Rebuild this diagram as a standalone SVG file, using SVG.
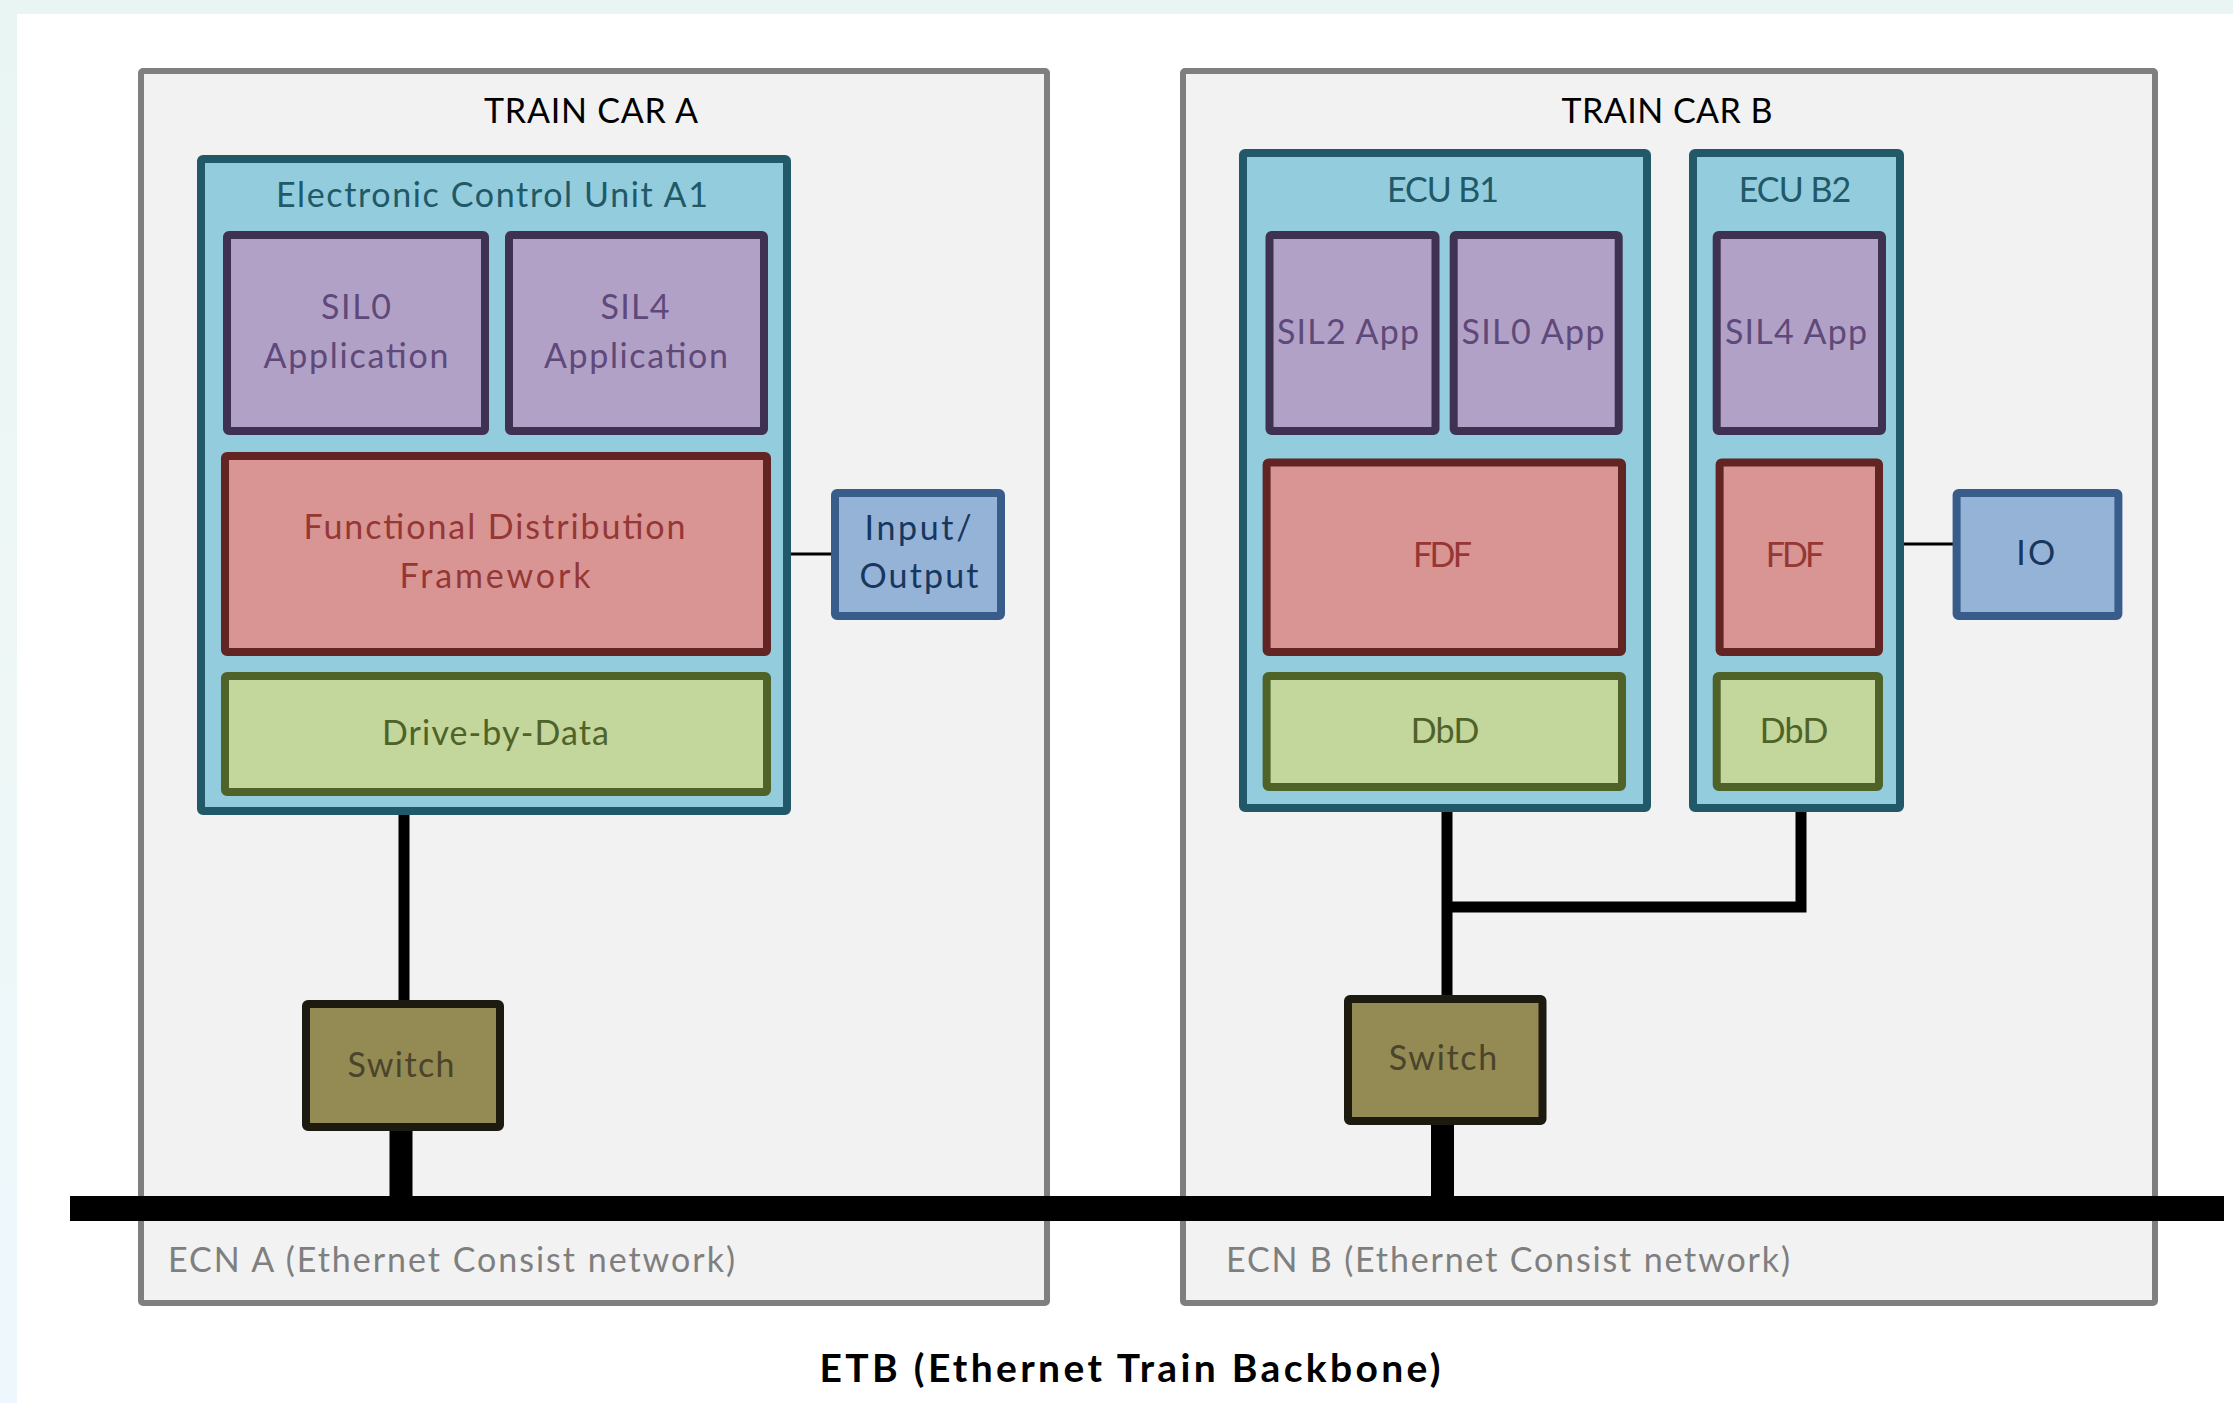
<svg xmlns="http://www.w3.org/2000/svg" width="2233" height="1403" viewBox="0 0 2233 1403">
<defs>
<linearGradient id="bgl" x1="0" y1="0" x2="0" y2="1">
<stop offset="0" stop-color="#e9f5f3"/>
<stop offset="0.5" stop-color="#eef7f6"/>
<stop offset="1" stop-color="#eef7fd"/>
</linearGradient>
<style>
text{font-family:Lato,"Open Sans","Liberation Sans",sans-serif;font-size:34px;text-anchor:middle}
.car{fill:#f2f2f2;stroke:#7f7f7f;stroke-width:6}
.ecu{fill:#93cddd;stroke:#215968;stroke-width:8}
.app{fill:#b2a1c7;stroke:#3f3151;stroke-width:8}
.fdf{fill:#d99594;stroke:#632523;stroke-width:8}
.dbd{fill:#c3d69b;stroke:#4f6228;stroke-width:8}
.io{fill:#95b3d7;stroke:#385d8a;stroke-width:8}
.sw{fill:#948a54;stroke:#1d1b10;stroke-width:8}
.tcar{fill:#000}
.tecu{fill:#215968}
.tapp{fill:#5f497a}
.tfdf{fill:#953735}
.tdbd{fill:#4f6228}
.tio{fill:#17375e}
.tsw{fill:#4a452a}
.tecn{fill:#7f7f7f;text-anchor:start}
.tetb{fill:#000;font-weight:bold;font-size:39px}
.thin{stroke:#000;stroke-width:3;fill:none}
.med{stroke:#000;stroke-width:11;fill:none}
.thick{stroke:#000;stroke-width:23;fill:none}
</style>
</defs>
<rect x="0" y="0" width="2233" height="1403" fill="url(#bgl)"/>
<rect x="17" y="14" width="2216" height="1389" fill="#ffffff"/>

<g id="car-a">
<rect class="car" x="141" y="71" width="906" height="1232" rx="2"/>
<text class="tcar" x="591" y="123" textLength="214">TRAIN CAR A</text>
<text class="tecn" x="168" y="1272" textLength="567">ECN A (Ethernet Consist network)</text>
</g>
<g id="car-b">
<rect class="car" x="1183" y="71" width="972" height="1232" rx="2"/>
<text class="tcar" x="1667" y="123" textLength="211">TRAIN CAR B</text>
<text class="tecn" x="1226" y="1272" textLength="564">ECN B (Ethernet Consist network)</text>
</g>

<g id="connectors">
<path class="thin" d="M791,554 H835"/>
<path class="thin" d="M1900,544 H1957"/>
<path class="med" d="M404,811 V1004"/>
<path class="med" d="M1447,808 V999"/>
<path class="med" d="M1801,805 V907 H1447"/>
<path class="thick" d="M401,1127 V1200"/>
<path class="thick" d="M1442.5,1121 V1200"/>
<rect id="etb-bus" x="70" y="1196" width="2154" height="25" fill="#000"/>
</g>

<g id="ecu-a1">
<rect class="ecu" x="201" y="159" width="586" height="652" rx="2"/>
<text class="tecu" x="492" y="207" textLength="432">Electronic Control Unit A1</text>
</g>
<g id="sil0-app-a">
<rect class="app" x="227" y="235" width="258" height="196" rx="2"/>
<text class="tapp" x="356" y="319" textLength="70">SIL0</text>
<text class="tapp" x="356" y="368" textLength="185">Application</text>
</g>
<g id="sil4-app-a">
<rect class="app" x="509" y="235" width="255" height="196" rx="2"/>
<text class="tapp" x="635" y="319" textLength="69">SIL4</text>
<text class="tapp" x="636" y="368" textLength="184">Application</text>
</g>
<g id="fdf-a">
<rect class="fdf" x="225" y="456" width="542" height="196" rx="2"/>
<text class="tfdf" x="494.5" y="539" textLength="382">Functional Distribution</text>
<text class="tfdf" x="495" y="588" textLength="191">Framework</text>
</g>
<g id="dbd-a">
<rect class="dbd" x="225" y="676" width="542" height="116" rx="2"/>
<text class="tdbd" x="495.5" y="745" textLength="227">Drive-by-Data</text>
</g>
<g id="io-a">
<rect class="io" x="835" y="493" width="166" height="123" rx="2"/>
<text class="tio" x="918" y="540" textLength="107">Input/</text>
<text class="tio" x="919" y="588" textLength="119">Output</text>
</g>
<g id="switch-a">
<rect class="sw" x="306" y="1004" width="194" height="123" rx="2"/>
<text class="tsw" x="401" y="1077" textLength="107">Switch</text>
</g>

<g id="ecu-b1">
<rect class="ecu" x="1243" y="153" width="404" height="655" rx="2"/>
<text class="tecu" x="1443" y="202" textLength="112">ECU B1</text>
</g>
<g id="sil2-app-b">
<rect class="app" x="1269.5" y="235" width="166" height="196" rx="2"/>
<text class="tapp" x="1348" y="344" textLength="142">SIL2 App</text>
</g>
<g id="sil0-app-b">
<rect class="app" x="1453.7" y="235" width="165" height="196" rx="2"/>
<text class="tapp" x="1533" y="344" textLength="143">SIL0 App</text>
</g>
<g id="fdf-b1">
<rect class="fdf" x="1266.6" y="462.5" width="355.4" height="189.5" rx="2"/>
<text class="tfdf" x="1442.5" y="567" textLength="59">FDF</text>
</g>
<g id="dbd-b1">
<rect class="dbd" x="1266.6" y="676" width="355.4" height="111" rx="2"/>
<text class="tdbd" x="1445" y="742.5" textLength="68.6">DbD</text>
</g>

<g id="ecu-b2">
<rect class="ecu" x="1693" y="153" width="207" height="655" rx="2"/>
<text class="tecu" x="1795" y="202" textLength="112.7">ECU B2</text>
</g>
<g id="sil4-app-b">
<rect class="app" x="1716.7" y="235" width="165.3" height="196" rx="2"/>
<text class="tapp" x="1796" y="344" textLength="142">SIL4 App</text>
</g>
<g id="fdf-b2">
<rect class="fdf" x="1719.6" y="462.5" width="159.4" height="189.5" rx="2"/>
<text class="tfdf" x="1795" y="567" textLength="58.5">FDF</text>
</g>
<g id="dbd-b2">
<rect class="dbd" x="1716.7" y="676" width="162.3" height="111" rx="2"/>
<text class="tdbd" x="1794" y="742.5" textLength="68.6">DbD</text>
</g>
<g id="io-b">
<rect class="io" x="1956.6" y="493" width="161.8" height="123" rx="2"/>
<text class="tio" x="2035.7" y="565" textLength="39">IO</text>
</g>
<g id="switch-b">
<rect class="sw" x="1348" y="999" width="194.5" height="122" rx="2"/>
<text class="tsw" x="1443" y="1070" textLength="108.4">Switch</text>
</g>

<g id="etb-label">
<text class="tetb" x="1130" y="1381.5" textLength="621">ETB (Ethernet Train Backbone)</text>
</g>
</svg>
